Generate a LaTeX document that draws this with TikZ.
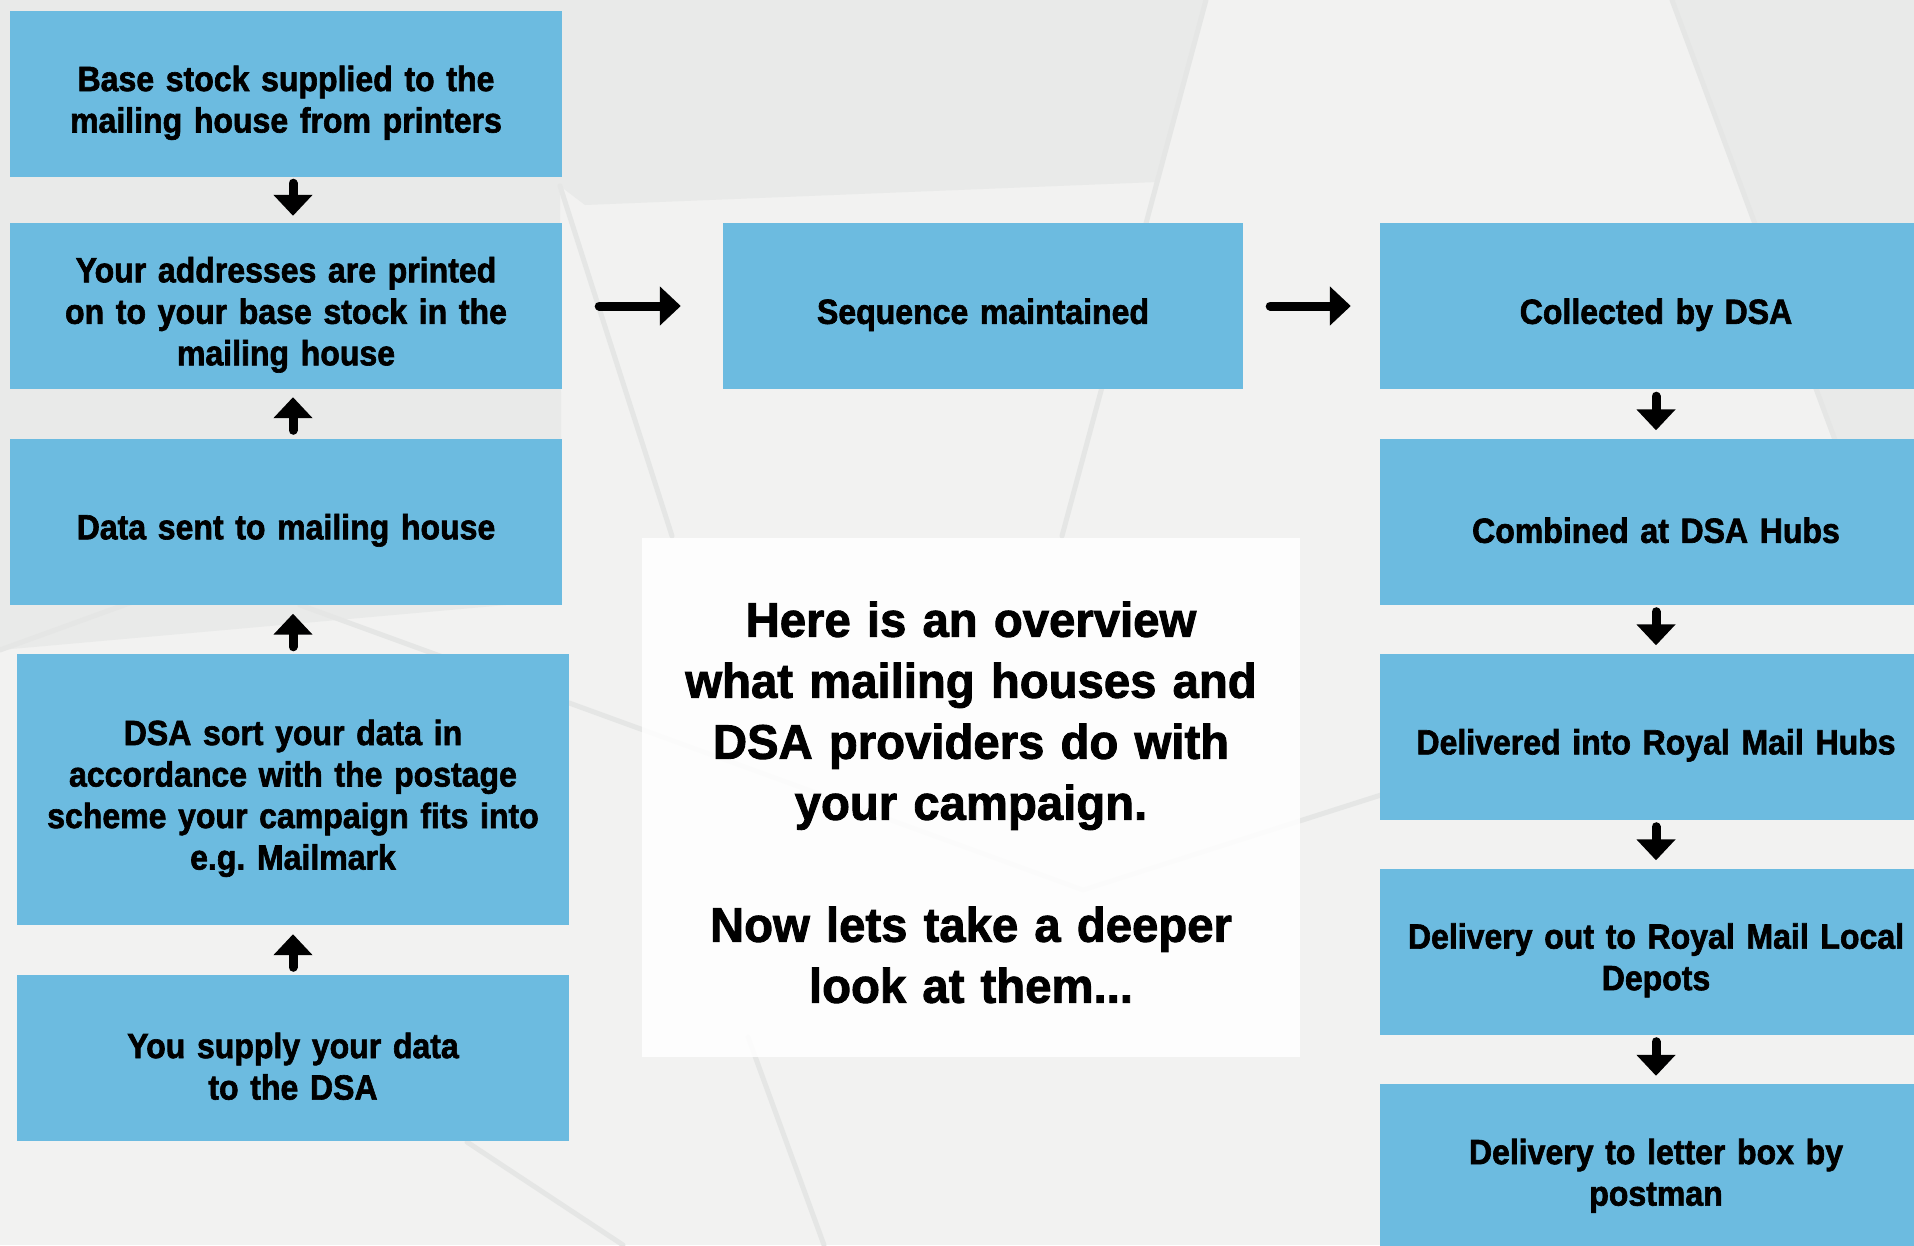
\documentclass[tikz,border=0pt]{standalone}
\usepackage{fontspec}
\setmainfont{Liberation Sans}[FakeStretch=0.915, BoldFeatures={FakeBold=1.8}]
\newfontfamily\introfont{Liberation Sans}[FakeStretch=0.975, BoldFeatures={FakeBold=1.8}]
\usetikzlibrary{arrows.meta}

\definecolor{stagecolor}{RGB}{108, 187, 224}
\definecolor{paper}{RGB}{242, 242, 241}
\definecolor{paperdark}{RGB}{233, 234, 233}
\definecolor{edgecolor}{RGB}{229, 230, 229}

% one blue step of the mailing chain
\newcommand{\stage}[5][]{
    \node[stage,#1] (#2) at (#3, #4) {#5};
}

\begin{document}
\begin{tikzpicture}[
        x=1pt, y=-1pt,
        stage/.style={fill=stagecolor, minimum width=552pt, minimum height=166pt,
            text width=530pt, align=center, inner sep=0pt,
            font=\bfseries\fontsize{35}{41.5}\selectfont,
            execute at begin node={\rule{0pt}{43pt}}},
        intro/.style={fill=white, fill opacity=0.88, text opacity=1,
            minimum width=658pt, minimum height=519pt, text width=630pt,
            align=center, inner sep=0pt,
            font=\introfont\bfseries\fontsize{48.5}{61}\selectfont,
            execute at begin node={\rule{0pt}{45pt}}},
        flow/.style={line width=9pt, line cap=round, draw=black,
            -{Triangle[width=38pt,length=21pt]}},
        sheet/.style={line width=5pt, draw=edgecolor, line cap=round}
    ]
    \clip (0, 0) rectangle (1914, 1245);

    % paper sheets behind everything
    \fill[paper] (0, 0) rectangle (1914, 1245);
    \fill[paperdark] (0, 0) -- (1206, 0) -- (1157, 182) -- (585, 205)
        -- (560, 186) -- (562, 600) -- (0, 650) -- cycle;
    \fill[paperdark] (1672, 0) -- (1914, 0) -- (1914, 450) -- (1835, 440) -- cycle;
    \draw[sheet] (1206, 0) -- (1062, 536);
    \draw[sheet] (560, 186) -- (672, 536);
    \draw[sheet] (1672, 0) -- (1835, 440);
    \draw[sheet] (0, 650) -- (160, 592);
    \draw[sheet] (300, 605) -- (1083, 890) -- (1381, 795);
    \draw[sheet] (748, 1037) -- (824, 1245);
    \draw[sheet] (467, 1142) -- (623, 1245);

    % left column
    \stage{base}{286}{94}{Base stock supplied to the\\mailing house from printers}
    \stage{addresses}{286}{306}{Your addresses are printed\\on to your base stock in the\\mailing house}
    \stage{datasent}{286}{521.5}{Data sent to mailing house}
    \stage[minimum height=271pt]{sort}{293}{789.5}{DSA sort your data in\\accordance with the postage\\scheme your campaign fits into\\e.g.\ Mailmark}
    \stage{supply}{293}{1057.5}{You supply your data\\to the DSA}

    % middle
    \stage[minimum width=520pt, text width=500pt]{sequence}{983}{306}{Sequence maintained}
    \node[intro] (overview) at (971, 797.5) {Here is an overview\\what mailing houses and\\DSA providers do with\\your campaign.\\~\\Now lets take a deeper\\look at them...};

    % right column
    \stage{collected}{1656}{306}{Collected by DSA}
    \stage{combined}{1656}{521.5}{Combined at DSA Hubs}
    \stage{royalhubs}{1656}{736.5}{Delivered into Royal Mail Hubs}
    \stage{depots}{1656}{951.5}{Delivery out to Royal Mail Local\\Depots}
    \stage{letterbox}{1656}{1167}{Delivery to letter box by\\postman}

    % arrows
    \draw[flow, shorten <=6pt, shorten >=7pt] ([xshift=7pt]base.south) -- ([xshift=7pt]addresses.north);
    \draw[flow, shorten <=8pt, shorten >=8pt] ([xshift=7pt]datasent.north) -- ([xshift=7pt]addresses.south);
    \draw[flow, shorten <=7pt, shorten >=9pt] (sort.north) -- (sort.north |- datasent.south);
    \draw[flow, shorten <=7pt, shorten >=9pt] (supply) -- (sort);
    \draw[flow, shorten <=37pt, shorten >=42pt] (addresses) -- (sequence);
    \draw[flow, shorten <=27pt, shorten >=29pt] (sequence) -- (collected);
    \foreach \from/\to in {collected/combined, combined/royalhubs, royalhubs/depots, depots/letterbox}
        \draw[flow, shorten <=7pt, shorten >=8pt] (\from) -- (\to);
\end{tikzpicture}
\end{document}
